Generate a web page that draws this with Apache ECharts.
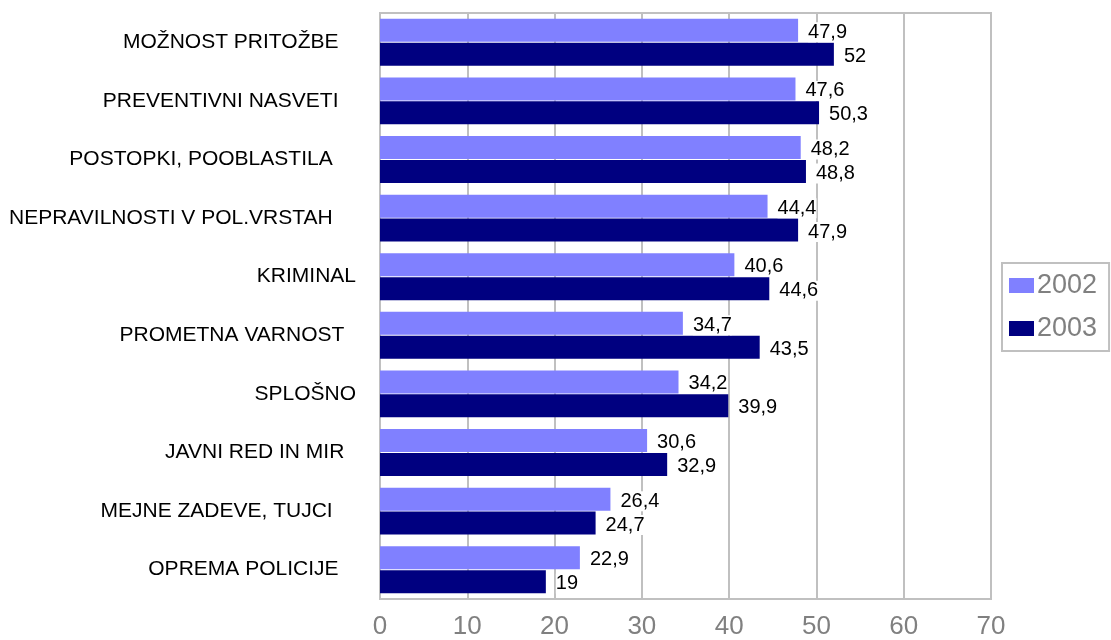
<!DOCTYPE html>
<html>
<head>
<meta charset="utf-8">
<script src="https://cdn.jsdelivr.net/npm/echarts@6/dist/echarts.min.js"></script>
<style>
  html, body { margin: 0; padding: 0; background: #fff; }
  #chart { width: 1111px; height: 640px; }
</style>
</head>
<body>
<div id="chart"></div>
<script>
// categories from top to bottom (trailing spaces as in the source labels)
const categories = [
  'MOŽNOST PRITOŽBE   ',
  'PREVENTIVNI NASVETI   ',
  'POSTOPKI, POOBLASTILA    ',
  'NEPRAVILNOSTI V POL.VRSTAH    ',
  'KRIMINAL',
  'PROMETNA VARNOST  ',
  'SPLOŠNO',
  'JAVNI RED IN MIR  ',
  'MEJNE ZADEVE, TUJCI    ',
  'OPREMA POLICIJE   '
]
const values2002 = [47.9, 47.6, 48.2, 44.4, 40.6, 34.7, 34.2, 30.6, 26.4, 22.9]
const values2003 = [52, 50.3, 48.8, 47.9, 44.6, 43.5, 39.9, 32.9, 24.7, 19]
const seriesNames = ['2002', '2003']

let myChart = echarts.init(document.getElementById('chart'))

let valueLabel = {
  show: true,
  position: 'right',
  distance: 10,
  offset: [0, 2],
  color: '#000',
  fontFamily: 'Liberation Sans, Arial, sans-serif',
  fontSize: 20,
  backgroundColor: '#fff',
  formatter: function (p) {
    return String(p.value).replace('.', ',')
  }
}

myChart.setOption({
  backgroundColor: '#fff',
  animation: false,
  grid: {
    left: 380,
    right: 120,
    top: 13,
    bottom: 41,
    show: true,
    borderColor: '#c0c0c0',
    borderWidth: 2
  },
  legend: {
    orient: 'vertical',
    left: 1002,
    top: 263,
    padding: [9, 12, 9, 7],
    itemGap: 16,
    itemWidth: 25,
    itemHeight: 15,
    icon: 'rect',
    borderColor: '#c0c0c0',
    borderWidth: 2,
    textStyle: {
      color: '#808080',
      fontFamily: 'Liberation Sans, Arial, sans-serif',
      fontSize: 27,
      padding: [0, 0, 0, -2]
    },
    data: seriesNames
  },
  xAxis: {
    type: 'value',
    min: 0,
    max: 70,
    interval: 10,
    axisLine: {
      show: true,
      lineStyle: { color: '#c0c0c0', width: 2 }
    },
    axisTick: { show: false },
    splitLine: {
      show: true,
      lineStyle: { color: '#c0c0c0', width: 2 }
    },
    axisLabel: {
      margin: 15,
      color: '#808080',
      fontFamily: 'Liberation Sans, Arial, sans-serif',
      fontSize: 26
    }
  },
  yAxis: {
    type: 'category',
    inverse: true,
    data: categories,
    axisLine: {
      show: true,
      lineStyle: { color: '#c0c0c0', width: 2 }
    },
    axisTick: { show: false },
    axisLabel: {
      margin: 24,
      color: '#000',
      fontFamily: 'Liberation Sans, Arial, sans-serif',
      fontSize: 21
    }
  },
  series: [
    {
      name: seriesNames[0],
      type: 'bar',
      data: values2002,
      barWidth: 23,
      barGap: '4%',
      itemStyle: { color: '#8080ff' },
      label: valueLabel
    },
    {
      name: seriesNames[1],
      type: 'bar',
      data: values2003,
      barWidth: 23,
      barGap: '4%',
      itemStyle: { color: '#000080' },
      label: valueLabel
    }
  ]
})
</script>
</body>
</html>
